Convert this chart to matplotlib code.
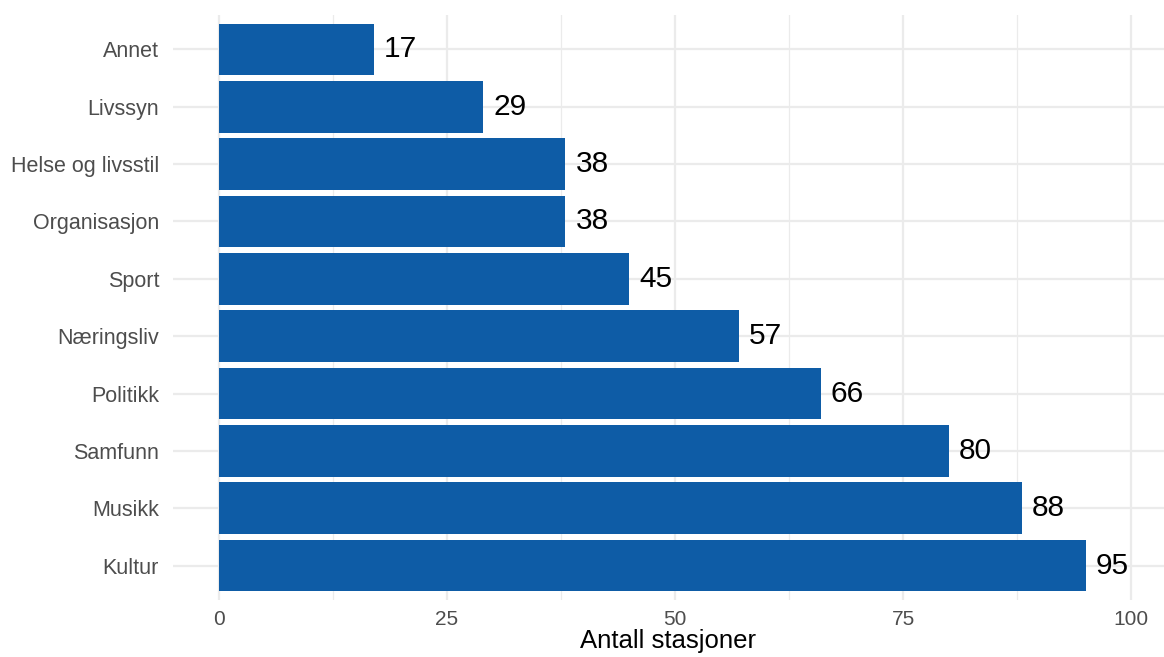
import matplotlib.pyplot as plt
from matplotlib.ticker import MultipleLocator

plt.rcParams["font.family"] = ["Liberation Sans", "DejaVu Sans"]

# Kategorier fra bunn til topp
categories = [
    "Kultur",
    "Musikk",
    "Samfunn",
    "Politikk",
    "Næringsliv",
    "Sport",
    "Organisasjon",
    "Helse og livsstil",
    "Livssyn",
    "Annet",
]
counts = [95, 88, 80, 66, 57, 45, 38, 38, 29, 17]

BAR_COLOR = "#0E5CA6"
GRID_COLOR = "#EBEBEB"
TICK_COLOR = "#4D4D4D"

fig = plt.figure(figsize=(11.64, 6.57), dpi=100)
ax = fig.add_axes([0.1486, 0.0868, 0.8514, 0.8904])

y = range(len(categories))
ax.barh(y, counts, height=0.9, color=BAR_COLOR, zorder=2)

for yi, val in zip(y, counts):
    ax.text(val + 1.1, yi, str(val), va="center", ha="left",
            fontsize=21.5, color="black", zorder=3)

ax.set_xlim(-5, 103.6)
ax.set_ylim(-0.6, len(categories) - 0.4)

ax.set_yticks(list(y))
ax.set_yticklabels(categories)
ax.xaxis.set_major_locator(MultipleLocator(25))
ax.xaxis.set_minor_locator(MultipleLocator(12.5))

ax.grid(True, which="major", axis="both", color=GRID_COLOR, linewidth=1.6, zorder=0)
ax.grid(True, which="minor", axis="x", color=GRID_COLOR, linewidth=0.9, zorder=0)
ax.set_axisbelow(True)

for spine in ax.spines.values():
    spine.set_visible(False)

ax.tick_params(axis="both", which="both", length=0, colors=TICK_COLOR)
ax.tick_params(axis="y", labelsize=15.5, pad=10)
ax.tick_params(axis="x", labelsize=15, pad=7)

ax.set_xlabel("Antall stasjoner", fontsize=18.5, color="black", labelpad=0)

fig.savefig("out.png", dpi=100)
